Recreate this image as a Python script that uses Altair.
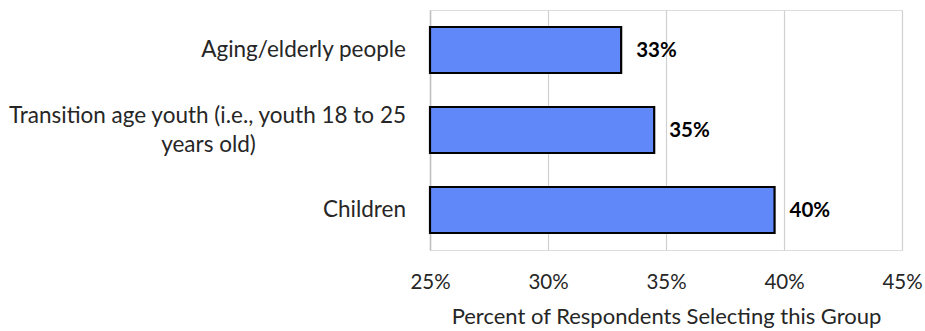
import altair as alt
import pandas as pd

# Share of respondents selecting each population group
groups = ["Aging/elderly people", "Transition age youth", "Children"]
label_line1 = [
    "Aging/elderly people",
    "Transition age youth (i.e., youth 18 to 25",
    "Children",
]
label_line2 = ["", "years old)", ""]
shares = [0.331, 0.345, 0.396]

tick_values = [0.25, 0.30, 0.35, 0.40, 0.45]

df = pd.DataFrame(
    {"group": groups, "line1": label_line1, "line2": label_line2, "share": shares}
)

FONT = "Lato"
TEXT = "#262626"
CAT_SIZE = 22.5

y_enc = alt.Y(
    "group:N",
    sort=groups,
    title=None,
    scale=alt.Scale(paddingInner=0.425, paddingOuter=0.2125),
    axis=alt.Axis(
        labels=False,
        ticks=False,
        domain=True,
        domainColor="#bfbfbf",
        domainWidth=1.5,
        grid=False,
    ),
)

x_enc = alt.X(
    "share:Q",
    title="Percent of Respondents Selecting this Group",
    scale=alt.Scale(domain=[0.25, 0.45], nice=False, zero=False, clamp=True),
    axis=alt.Axis(
        values=tick_values,
        format=".0%",
        labelFont=FONT,
        labelFontSize=20.5,
        labelColor=TEXT,
        labelPadding=22,
        labelFlush=False,
        ticks=False,
        domain=False,
        grid=True,
        gridColor="#d0d0d0",
        gridWidth=1.2,
        titleFont=FONT,
        titleFontSize=22,
        titleFontWeight="normal",
        titleColor=TEXT,
        titlePadding=14,
    ),
)

y_cat = alt.Y("group:N", sort=groups)

bars = alt.Chart(df).mark_bar(
    color="#6088f8", stroke="black", strokeWidth=2.2
).encode(y=y_enc, x=x_enc)

value_labels = alt.Chart(df).mark_text(
    align="left", baseline="middle", dx=15, dy=1,
    font=FONT, fontSize=20.5, fontWeight="bold", color="black",
).encode(y=y_cat, x="share:Q", text=alt.Text("share:Q", format=".0%"))

# Category labels: single-line ones sit on the band centre,
# wrapped ones are split into two lines around it.
label_style = dict(baseline="middle", font=FONT, fontSize=CAT_SIZE, color=TEXT)

single_labels = alt.Chart(df).transform_filter("datum.line2 == ''").mark_text(
    align="right", **label_style
).encode(y=y_cat, x=alt.value(-24), text="line1:N")

wrap_first = alt.Chart(df).transform_filter("datum.line2 != ''").mark_text(
    align="right", dy=-14.5, **label_style
).encode(y=y_cat, x=alt.value(-24), text="line1:N")

wrap_second = alt.Chart(df).transform_filter("datum.line2 != ''").mark_text(
    align="center", dy=14.5, **label_style
).encode(y=y_cat, x=alt.value(-221.5), text="line2:N")

chart = alt.layer(
    bars, value_labels, single_labels, wrap_first, wrap_second
).properties(
    width=472,
    height=240,
    autosize=alt.AutoSizeParams(type="none"),
    padding={"left": 430, "top": 10, "right": 23, "bottom": 81},
).configure_view(stroke=None).configure(background="white")

chart.save("out.html", embed_options={"renderer": "svg", "actions": False})
